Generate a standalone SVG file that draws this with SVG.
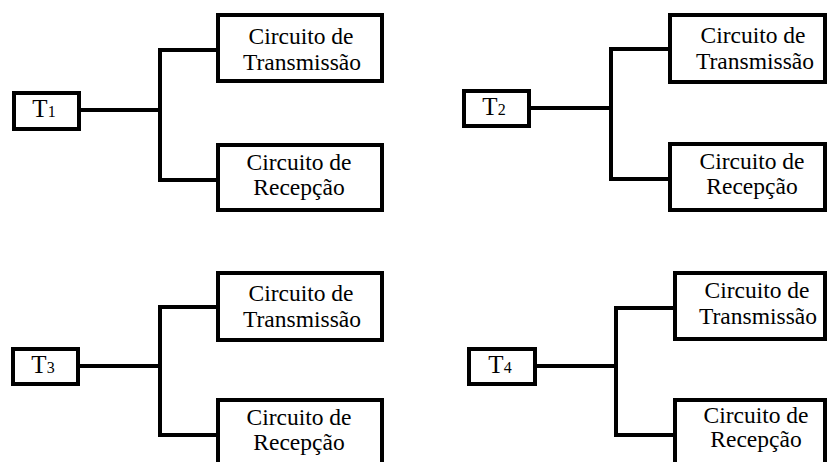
<svg xmlns="http://www.w3.org/2000/svg" width="827" height="462" viewBox="0 0 827 462">
<style>
.box{fill:#fff;stroke:#000;stroke-width:4}
.ln{fill:none;stroke:#000;stroke-width:4;stroke-linejoin:miter}
.lbl{font-family:"Liberation Serif","Times New Roman",serif;font-size:23.5px;fill:#000;text-anchor:middle}
.t{font-family:"Liberation Serif","Times New Roman",serif;font-size:25px;fill:#000;text-anchor:middle}
.sub{font-size:16px}
</style>
<rect width="827" height="462" fill="#fff"/>
<g id="connectors">
<path class="ln" d="M79,110 H160 M218,50 H160 V180 H218"/>
<path class="ln" d="M529,108 H611 M670,49 H611 V179 H670"/>
<path class="ln" d="M78,366 H160 M218,307 H160 V435 H218"/>
<path class="ln" d="M535,366 H616 M675,308 H616 V435 H675"/>
</g>
<g id="T1"><rect class="box" x="14" y="93" width="65" height="36"/><text class="t" x="44" y="117">T<tspan class="sub">1</tspan></text></g>
<g id="T2"><rect class="box" x="464" y="91" width="65" height="35"/><text class="t" x="494" y="115">T<tspan class="sub">2</tspan></text></g>
<g id="T3"><rect class="box" x="13" y="349" width="65" height="35"/><text class="t" x="43" y="373">T<tspan class="sub">3</tspan></text></g>
<g id="T4"><rect class="box" x="469" y="349" width="66" height="35"/><text class="t" x="500" y="373">T<tspan class="sub">4</tspan></text></g>
<g id="tx1"><rect class="box" x="218" y="15" width="164" height="66"/><text class="lbl" x="301" y="44">Circuito de</text><text class="lbl" x="302" y="70">Transmissão</text></g>
<g id="rx1"><rect class="box" x="218" y="145" width="164" height="65"/><text class="lbl" x="299" y="170">Circuito de</text><text class="lbl" x="299" y="195">Recepção</text></g>
<g id="tx2"><rect class="box" x="670" y="15" width="155" height="67"/><text class="lbl" x="753" y="43">Circuito de</text><text class="lbl" x="755" y="69">Transmissão</text></g>
<g id="rx2"><rect class="box" x="670" y="144" width="155" height="66"/><text class="lbl" x="752" y="169">Circuito de</text><text class="lbl" x="752" y="194">Recepção</text></g>
<g id="tx3"><rect class="box" x="218" y="273" width="164" height="67"/><text class="lbl" x="301" y="301">Circuito de</text><text class="lbl" x="302" y="327">Transmissão</text></g>
<g id="rx3"><rect class="box" x="218" y="400" width="164" height="70"/><text class="lbl" x="299" y="425">Circuito de</text><text class="lbl" x="299" y="450">Recepção</text></g>
<g id="tx4"><rect class="box" x="675" y="273" width="150" height="66"/><text class="lbl" x="757" y="298">Circuito de</text><text class="lbl" x="758" y="324">Transmissão</text></g>
<g id="rx4"><rect class="box" x="675" y="400" width="150" height="70"/><text class="lbl" x="756" y="423">Circuito de</text><text class="lbl" x="756" y="447">Recepção</text></g>
</svg>
